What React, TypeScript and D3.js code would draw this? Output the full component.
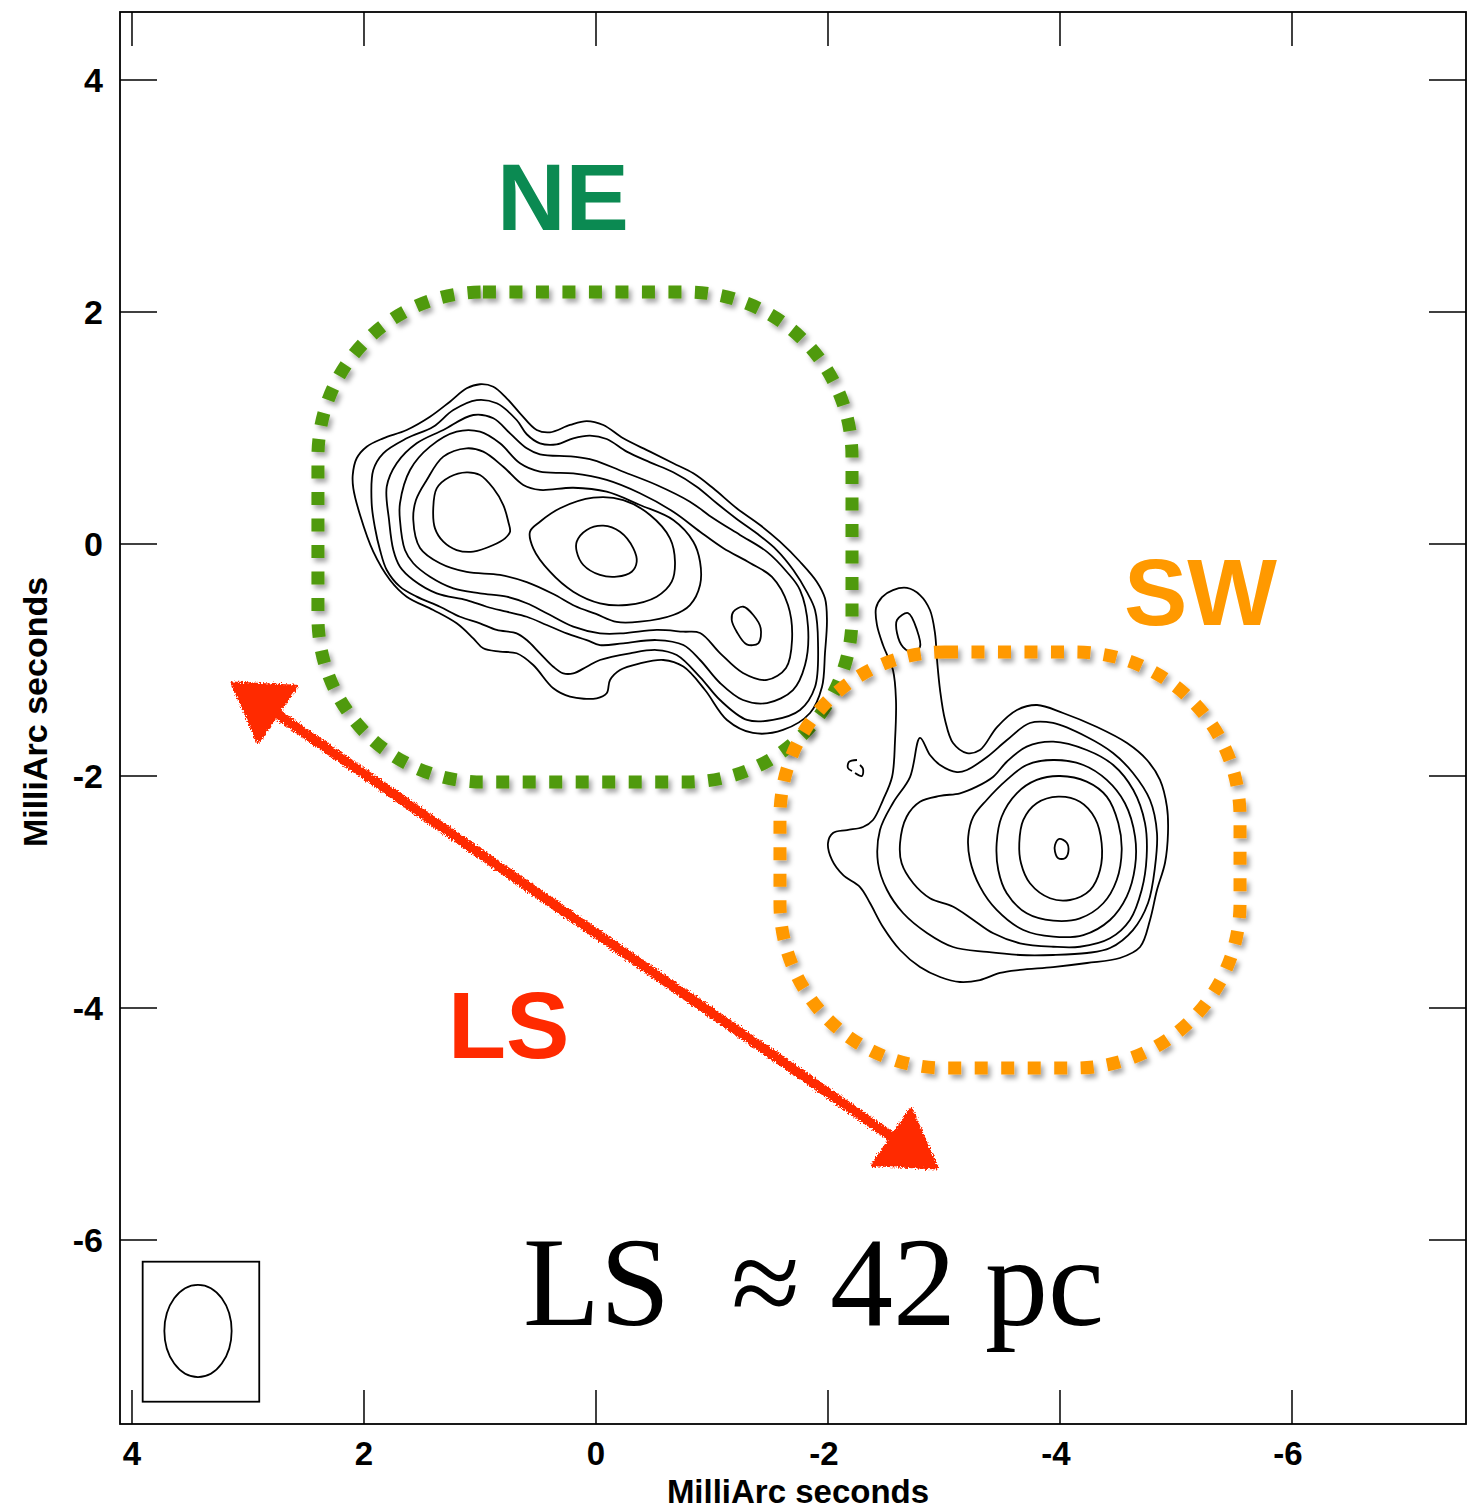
import React from 'react';
import * as d3 from 'd3';

type Pt = [number, number];

// ---- axes ----
const xDomain: [number, number] = [4.1034, -7.5];
const yDomain: [number, number] = [4.5862, -7.5862];
const xTicks = [4, 2, 0, -2, -4, -6];
const yTicks = [4, 2, 0, -2, -4, -6];
const xTitle = 'MilliArc seconds';
const yTitle = 'MilliArc seconds';

// ---- NE component contours (mas) ----
const neC1: Pt[] = [[2.097,0.595],[2.063,0.739],[1.977,0.839],[1.834,0.911],[1.632,0.983],[1.431,1.097],[1.259,1.227],[1.115,1.342],[1.0,1.377],[0.885,1.356],[0.770,1.256],[0.655,1.127],[0.511,0.983],[0.397,0.963],[0.224,1.026],[0.080,1.060],[-0.063,1.026],[-0.235,0.911],[-0.466,0.796],[-0.666,0.696],[-0.839,0.609],[-1.011,0.480],[-1.213,0.308],[-1.414,0.164],[-1.586,0.020],[-1.759,-0.153],[-1.903,-0.325],[-1.974,-0.468],[-1.991,-0.655],[-1.974,-0.940],[-1.948,-1.233],[-1.845,-1.457],[-1.612,-1.603],[-1.353,-1.629],[-1.129,-1.517],[-0.940,-1.259],[-0.753,-1.057],[-0.580,-1.0],[-0.379,-1.029],[-0.207,-1.086],[-0.121,-1.172],[-0.092,-1.287],[-0.006,-1.330],[0.224,-1.316],[0.368,-1.244],[0.541,-1.043],[0.684,-0.942],[0.828,-0.928],[0.972,-0.899],[1.058,-0.813],[1.201,-0.684],[1.403,-0.569],[1.632,-0.454],[1.776,-0.310],[1.920,-0.066],[2.034,0.250],[2.092,0.480]];
const neC2: Pt[] = [[1.934,0.351],[1.920,0.638],[1.834,0.782],[1.632,0.911],[1.403,1.011],[1.230,1.155],[1.028,1.241],[0.856,1.213],[0.684,1.069],[0.597,0.946],[0.483,0.868],[0.339,0.859],[0.196,0.911],[0.052,0.934],[-0.092,0.905],[-0.265,0.796],[-0.466,0.704],[-0.666,0.618],[-0.868,0.494],[-1.041,0.351],[-1.213,0.216],[-1.385,0.092],[-1.558,-0.052],[-1.701,-0.224],[-1.816,-0.411],[-1.888,-0.569],[-1.914,-0.853],[-1.888,-1.233],[-1.759,-1.431],[-1.526,-1.517],[-1.302,-1.517],[-1.069,-1.345],[-0.897,-1.147],[-0.696,-0.957],[-0.523,-0.914],[-0.293,-0.942],[-0.034,-1.0],[0.080,-1.058],[0.196,-1.115],[0.282,-1.115],[0.368,-1.058],[0.483,-0.942],[0.597,-0.828],[0.684,-0.770],[0.856,-0.741],[1.0,-0.684],[1.172,-0.627],[1.345,-0.541],[1.546,-0.454],[1.690,-0.368],[1.804,-0.224],[1.862,-0.052],[1.905,0.138]];
const neC3: Pt[] = [[1.804,0.494],[1.718,0.696],[1.546,0.868],[1.316,0.983],[1.058,1.112],[0.885,1.084],[0.741,0.954],[0.597,0.825],[0.483,0.773],[0.196,0.753],[0.023,0.724],[-0.235,0.623],[-0.523,0.509],[-0.810,0.365],[-1.011,0.222],[-1.241,0.078],[-1.472,-0.066],[-1.644,-0.239],[-1.759,-0.397],[-1.828,-0.716],[-1.802,-1.043],[-1.698,-1.259],[-1.474,-1.371],[-1.267,-1.345],[-1.069,-1.198],[-0.897,-1.0],[-0.753,-0.871],[-0.523,-0.828],[-0.235,-0.856],[-0.034,-0.871],[0.080,-0.828],[0.253,-0.770],[0.425,-0.698],[0.597,-0.627],[0.770,-0.584],[0.942,-0.541],[1.115,-0.483],[1.373,-0.425],[1.575,-0.310],[1.690,-0.196],[1.747,-0.052],[1.784,0.207]];
const neC4: Pt[] = [[1.690,0.351],[1.603,0.638],[1.431,0.839],[1.201,0.968],[1.0,0.968],[0.828,0.868],[0.655,0.696],[0.483,0.623],[0.196,0.609],[-0.092,0.552],[-0.379,0.437],[-0.666,0.278],[-0.897,0.106],[-1.095,-0.034],[-1.328,-0.164],[-1.517,-0.284],[-1.655,-0.526],[-1.690,-0.828],[-1.638,-1.069],[-1.474,-1.172],[-1.267,-1.112],[-1.069,-0.940],[-0.897,-0.767],[-0.753,-0.756],[-0.523,-0.741],[-0.235,-0.770],[-0.034,-0.770],[0.196,-0.713],[0.425,-0.597],[0.597,-0.511],[0.770,-0.454],[1.0,-0.425],[1.230,-0.382],[1.431,-0.282],[1.575,-0.166],[1.647,-0.052],[1.690,0.207]];
const neC5: Pt[] = [[1.575,0.207],[1.552,0.379],[1.459,0.552],[1.316,0.753],[1.115,0.825],[0.972,0.796],[0.799,0.666],[0.627,0.509],[0.483,0.466],[0.196,0.485],[-0.092,0.451],[-0.379,0.336],[-0.666,0.207],[-0.839,0.020],[-0.897,-0.153],[-0.897,-0.353],[-0.810,-0.526],[-0.666,-0.612],[-0.379,-0.670],[-0.178,-0.672],[0.0,-0.603],[0.181,-0.534],[0.368,-0.431],[0.597,-0.328],[0.828,-0.267],[1.115,-0.241],[1.345,-0.166],[1.517,-0.034]];
const neLeftPeak: Pt[] = [[1.403,0.308],[1.373,0.480],[1.259,0.580],[1.115,0.618],[1.0,0.595],[0.885,0.480],[0.799,0.336],[0.756,0.192],[0.741,0.106],[0.784,0.049],[0.885,-0.009],[1.058,-0.066],[1.201,-0.052],[1.316,0.020],[1.388,0.135]];
const neMidPeak: Pt[] = [[0.569,0.106],[0.483,0.192],[0.310,0.308],[0.023,0.399],[-0.235,0.379],[-0.466,0.250],[-0.638,0.049],[-0.681,-0.153],[-0.653,-0.325],[-0.523,-0.454],[-0.265,-0.526],[-0.034,-0.511],[0.196,-0.411],[0.397,-0.239],[0.541,-0.037]];
const neMidCore: Pt[] = [[0.166,0.020],[0.080,0.121],[-0.063,0.158],[-0.207,0.106],[-0.322,-0.037],[-0.351,-0.153],[-0.308,-0.239],[-0.178,-0.282],[-0.034,-0.267],[0.109,-0.181],[0.166,-0.066]];
const neKnot: Pt[] = [[-1.184,-0.584],[-1.270,-0.541],[-1.356,-0.612],[-1.420,-0.727],[-1.399,-0.856],[-1.299,-0.865],[-1.213,-0.756],[-1.170,-0.655]];

// ---- SW component contours (mas) ----
const swC1: Pt[] = [[-2.466,-0.457],[-2.560,-0.397],[-2.681,-0.379],[-2.793,-0.440],[-2.879,-0.569],[-2.922,-0.767],[-2.940,-1.0],[-2.966,-1.259],[-3.009,-1.517],[-3.078,-1.716],[-3.198,-1.802],[-3.310,-1.776],[-3.457,-1.578],[-3.629,-1.431],[-3.802,-1.388],[-4.026,-1.457],[-4.319,-1.578],[-4.578,-1.716],[-4.750,-1.862],[-4.862,-2.034],[-4.922,-2.267],[-4.931,-2.491],[-4.905,-2.750],[-4.836,-2.983],[-4.776,-3.241],[-4.690,-3.474],[-4.517,-3.569],[-4.233,-3.612],[-3.940,-3.647],[-3.655,-3.672],[-3.483,-3.698],[-3.310,-3.759],[-3.138,-3.776],[-2.966,-3.733],[-2.793,-3.647],[-2.621,-3.5],[-2.474,-3.302],[-2.362,-3.095],[-2.276,-2.957],[-2.129,-2.853],[-2.034,-2.724],[-2.0,-2.578],[-2.043,-2.491],[-2.164,-2.466],[-2.302,-2.440],[-2.388,-2.379],[-2.474,-2.207],[-2.552,-2.009],[-2.578,-1.690],[-2.586,-1.345],[-2.560,-1.086],[-2.474,-0.871],[-2.422,-0.698],[-2.414,-0.552]];
const swJetKnot: Pt[] = [[-2.595,-0.655],[-2.690,-0.595],[-2.767,-0.741],[-2.793,-0.888],[-2.733,-0.931],[-2.647,-0.888],[-2.595,-0.767]];
const swC2: Pt[] = [[-2.793,-1.672],[-2.879,-1.819],[-2.966,-1.905],[-3.112,-1.966],[-3.198,-1.948],[-3.371,-1.836],[-3.543,-1.690],[-3.741,-1.543],[-3.940,-1.543],[-4.233,-1.664],[-4.457,-1.802],[-4.629,-1.974],[-4.776,-2.207],[-4.836,-2.491],[-4.819,-2.784],[-4.759,-3.095],[-4.629,-3.328],[-4.431,-3.483],[-4.233,-3.526],[-3.940,-3.543],[-3.655,-3.543],[-3.371,-3.517],[-3.078,-3.474],[-2.853,-3.353],[-2.647,-3.181],[-2.509,-2.983],[-2.431,-2.750],[-2.448,-2.466],[-2.560,-2.233],[-2.707,-2.009]];
const swC3: Pt[] = [[-2.621,-2.580],[-2.678,-2.351],[-2.793,-2.222],[-2.966,-2.172],[-3.138,-2.149],[-3.282,-2.092],[-3.425,-2.006],[-3.541,-1.877],[-3.713,-1.747],[-3.942,-1.704],[-4.230,-1.776],[-4.459,-1.905],[-4.632,-2.121],[-4.733,-2.408],[-4.747,-2.696],[-4.704,-2.983],[-4.603,-3.241],[-4.431,-3.399],[-4.172,-3.472],[-3.942,-3.472],[-3.655,-3.442],[-3.425,-3.356],[-3.253,-3.241],[-3.080,-3.127],[-2.879,-3.054],[-2.735,-2.925],[-2.635,-2.753]];
const swC4: Pt[] = [[-3.209,-2.523],[-3.253,-2.351],[-3.368,-2.207],[-3.541,-2.034],[-3.713,-1.905],[-3.942,-1.862],[-4.201,-1.905],[-4.403,-2.034],[-4.560,-2.235],[-4.647,-2.523],[-4.647,-2.782],[-4.575,-3.040],[-4.431,-3.241],[-4.201,-3.371],[-3.942,-3.385],[-3.684,-3.328],[-3.454,-3.155],[-3.310,-2.954],[-3.224,-2.724]];
const swC5: Pt[] = [[-3.454,-2.580],[-3.497,-2.351],[-3.627,-2.149],[-3.799,-2.034],[-4.0,-2.0],[-4.230,-2.049],[-4.403,-2.178],[-4.503,-2.408],[-4.532,-2.638],[-4.489,-2.897],[-4.373,-3.097],[-4.172,-3.227],[-3.942,-3.247],[-3.713,-3.184],[-3.541,-3.011],[-3.468,-2.810]];
const swC6: Pt[] = [[-3.649,-2.580],[-3.684,-2.379],[-3.799,-2.235],[-3.985,-2.178],[-4.172,-2.222],[-4.302,-2.365],[-4.359,-2.580],[-4.345,-2.810],[-4.259,-2.983],[-4.086,-3.069],[-3.914,-3.054],[-3.741,-2.925],[-3.664,-2.753]];
const swCore: Pt[] = [[-3.957,-2.595],[-3.994,-2.543],[-4.058,-2.575],[-4.072,-2.653],[-4.043,-2.709],[-3.985,-2.709],[-3.957,-2.653]];
const swTinyA: Pt[] = [[-2.250,-1.862],[-2.181,-1.879],[-2.172,-1.931],[-2.207,-1.957]];
const swTinyB: Pt[] = [[-2.233,-1.974],[-2.293,-2.0],[-2.302,-1.940],[-2.276,-1.905]];

const closedContours: Pt[][] = [neC1, neC2, neC3, neC4, neC5, neLeftPeak, neMidPeak, neMidCore, neKnot,
  swC1, swJetKnot, swC2, swC3, swC4, swC5, swC6, swCore];
const openContours: Pt[][] = [swTinyA, swTinyB];

// ---- annotations (mas) ----
const neRegion: [Pt, Pt] = [[2.397, 2.172], [-2.207, -2.052]];
const swRegion: [Pt, Pt] = [[-1.586, -0.931], [-5.552, -4.517]];
const arrowEnds: [Pt, Pt] = [[3.138, -1.198], [-2.940, -5.379]];
const beamBox: [Pt, Pt] = [[3.908, -6.187], [2.903, -7.394]];
const beamCenter: Pt = [3.431, -6.784];
const beamAxes: [number, number] = [0.29, 0.398];
const regionLabels = ['NE', 'SW', 'LS'];
const sizeText = ['LS', '\u2248', '42', 'pc'];

export default function App() {
  const W = 1479, H = 1509;
  const L = 120, R = 1466, T = 12, B = 1424;
  const x = d3.scaleLinear().domain(xDomain).range([L, R]);
  const y = d3.scaleLinear().domain(yDomain).range([T, B]);
  const ppm = Math.abs(x(1) - x(0));

  const closed = d3.line<Pt>().x(d => x(d[0])).y(d => y(d[1])).curve(d3.curveCatmullRomClosed.alpha(0.5));
  const open = d3.line<Pt>().x(d => x(d[0])).y(d => y(d[1])).curve(d3.curveCatmullRom.alpha(0.5));

  const sans = '"Liberation Sans", Arial, Helvetica, sans-serif';
  const serif = '"Liberation Serif", "Times New Roman", serif';

  // arrow geometry
  const a1: Pt = [x(arrowEnds[0][0]), y(arrowEnds[0][1])];
  const a2: Pt = [x(arrowEnds[1][0]), y(arrowEnds[1][1])];
  const dx = a2[0] - a1[0], dy = a2[1] - a1[1];
  const len = Math.hypot(dx, dy);
  const ux = dx / len, uy = dy / len;
  const headLen = 55, headHalf = 34;
  const head = (tip: Pt, sx: number, sy: number) => {
    const bx = tip[0] - sx * headLen, by = tip[1] - sy * headLen;
    const px = -sy, py = sx;
    return `M${tip[0]},${tip[1]}L${bx + px * headHalf},${by + py * headHalf}L${bx - px * headHalf},${by - py * headHalf}Z`;
  };

  const regionRect = (r: [Pt, Pt], color: string, key: string) => {
    const x0 = x(r[0][0]), x1 = x(r[1][0]);
    const y0 = y(r[0][1]), y1 = y(r[1][1]);
    return (
      <rect key={key} x={x0} y={y0} width={x1 - x0} height={y1 - y0} rx={165} ry={165}
        fill="none" stroke={color} strokeWidth={13} strokeDasharray="13 13.5" filter="url(#shadow)" />
    );
  };

  return (
    <svg width={W} height={H} viewBox={`0 0 ${W} ${H}`} style={{ position: 'absolute', left: 0, top: 0, display: 'block', background: '#fff' }}>
      <defs>
        <filter id="shadow" x="-10%" y="-10%" width="120%" height="120%">
          <feDropShadow dx="3" dy="4" stdDeviation="2.5" floodColor="#000" floodOpacity="0.35" />
        </filter>
        <filter id="rough" x="-10%" y="-10%" width="120%" height="120%">
          <feTurbulence type="fractalNoise" baseFrequency="0.6" numOctaves="2" seed="3" result="n" />
          <feDisplacementMap in="SourceGraphic" in2="n" scale="6" xChannelSelector="R" yChannelSelector="G" />
        </filter>
        <clipPath id="plot"><rect x={L} y={T} width={R - L} height={B - T} /></clipPath>
      </defs>
      <rect x={0} y={0} width={W} height={H} fill="#fff" />

      {/* contours */}
      <g clipPath="url(#plot)" fill="none" stroke="#000" strokeWidth={1.8} strokeLinejoin="round">
        {closedContours.map((c, i) => <path key={'c' + i} d={closed(c) || ''} />)}
        {openContours.map((c, i) => <path key={'o' + i} d={open(c) || ''} />)}
      </g>

      {/* regions */}
      {regionRect(neRegion, '#4f9a0a', 'ne')}
      {regionRect(swRegion, '#ff9900', 'sw')}

      {/* frame + ticks */}
      <rect x={L} y={T} width={R - L} height={B - T} fill="none" stroke="#000" strokeWidth={1.8} />
      <g stroke="#000" strokeWidth={1.5}>
        {xTicks.map(t => (
          <g key={'xt' + t}>
            <line x1={x(t)} x2={x(t)} y1={B} y2={B - 34} />
            <line x1={x(t)} x2={x(t)} y1={T} y2={T + 34} />
          </g>
        ))}
        {yTicks.map(t => (
          <g key={'yt' + t}>
            <line x1={L} x2={L + 37} y1={y(t)} y2={y(t)} />
            <line x1={R} x2={R - 37} y1={y(t)} y2={y(t)} />
          </g>
        ))}
      </g>
      <g fontFamily={sans} fontWeight="bold" fill="#000">
        {xTicks.map(t => (
          <text key={'xl' + t} x={x(t) - (t < 0 ? 4 : 0)} y={B + 41} textAnchor="middle" fontSize={33}>{String(t)}</text>
        ))}
        {yTicks.map(t => (
          <text key={'yl' + t} x={L - 17} y={y(t) + 12} textAnchor="end" fontSize={34}>{String(t)}</text>
        ))}
      </g>
      <text x={(L + R) / 2 + 5} y={1503} textAnchor="middle" fontFamily={sans} fontWeight="bold" fontSize={33}>{xTitle}</text>
      <text transform={`translate(47,${(T + B) / 2 - 6}) rotate(-90)`} textAnchor="middle" fontFamily={sans} fontWeight="bold" fontSize={34}>{yTitle}</text>

      {/* beam */}
      <rect x={x(beamBox[0][0])} y={y(beamBox[0][1])} width={x(beamBox[1][0]) - x(beamBox[0][0])} height={y(beamBox[1][1]) - y(beamBox[0][1])}
        fill="none" stroke="#000" strokeWidth={1.8} />
      <ellipse cx={x(beamCenter[0])} cy={y(beamCenter[1])} rx={beamAxes[0] * ppm} ry={beamAxes[1] * ppm} fill="none" stroke="#000" strokeWidth={1.8} />

      {/* arrow */}
      <g filter="url(#rough)" fill="#ff2a00" stroke="#ff2a00">
        <line x1={a1[0] + ux * 40} y1={a1[1] + uy * 40} x2={a2[0] - ux * 40} y2={a2[1] - uy * 40} strokeWidth={10} strokeLinecap="round" />
        <path d={head(a1, -ux, -uy)} strokeWidth={3} strokeLinejoin="round" />
        <path d={head(a2, ux, uy)} strokeWidth={3} strokeLinejoin="round" />
      </g>

      {/* labels */}
      <g fontFamily={sans} fontWeight="bold" fontSize={95}>
        <text x={497} y={230} fill="#0b8a52">{regionLabels[0]}</text>
        <text x={1124} y={625} fill="#ff9900">{regionLabels[1]}</text>
        <text x={448} y={1058} fill="#ff2a00">{regionLabels[2]}</text>
      </g>
      <g fontFamily={serif} fontSize={126} fill="#000">
        <text x={523} y={1325}>{sizeText[0]}</text>
        <text x={731} y={1325}>{sizeText[1]}</text>
        <text x={830} y={1325}>{sizeText[2]}</text>
        <text x={985} y={1325}>{sizeText[3]}</text>
      </g>
    </svg>
  );
}
